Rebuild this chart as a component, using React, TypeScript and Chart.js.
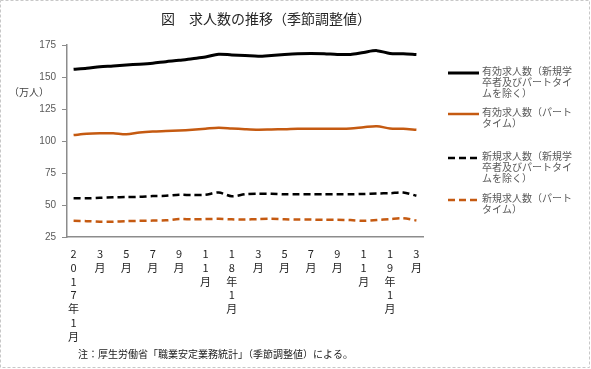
import React, { useEffect, useRef } from 'react';
import { Chart, registerables } from 'chart.js';

Chart.register(...registerables);

// Monthly ticks, Jan 2017 – Mar 2019 (labels every two months)
const tickLabels = [
  '2017年1月', '', '3月', '', '5月', '', '7月', '', '9月', '', '11月', '',
  '18年1月', '', '3月', '', '5月', '', '7月', '', '9月', '', '11月', '',
  '19年1月', '', '3月',
];

const yTicks = [25, 50, 75, 100, 125, 150, 175];

const effectiveExcl = [
  156.1, 156.8, 158.0, 158.6, 159.4, 160.0, 160.8, 162.0, 163.0, 164.3, 165.6, 167.8, 167.2,
  166.8, 166.2, 166.8, 167.6, 168.2, 168.4, 168.2, 167.6, 167.6, 169.2, 170.6, 168.4, 168.2, 167.6,
];
const effectivePart = [
  104.6, 105.6, 106.0, 106.0, 105.2, 106.6, 107.4, 107.8, 108.2, 108.8, 109.6, 110.4, 109.8,
  109.2, 108.8, 109.0, 109.2, 109.6, 109.6, 109.6, 109.6, 109.8, 110.8, 111.6, 109.8, 109.6, 108.8,
];
const newExcl = [
  55.3, 55.2, 55.6, 56.0, 56.2, 56.4, 57.0, 57.2, 58.0, 57.8, 58.0, 59.8, 56.8,
  58.4, 58.8, 58.8, 58.4, 58.4, 58.4, 58.4, 58.4, 58.4, 58.6, 59.0, 59.2, 59.8, 57.2,
];
const newPart = [
  37.6, 37.4, 36.9, 37.0, 37.4, 37.6, 37.8, 38.0, 39.0, 38.8, 39.0, 39.2, 38.8,
  38.6, 39.0, 39.2, 38.8, 38.6, 38.6, 38.4, 38.4, 38.2, 37.6, 38.2, 39.0, 39.6, 37.9,
];

const seriesNames = [
  ['有効求人数（新規学', '卒者及びパートタイ', 'ムを除く）'],
  ['有効求人数（パート', 'タイム）'],
  ['新規求人数（新規学', '卒者及びパートタイ', 'ムを除く）'],
  ['新規求人数（パート', 'タイム）'],
];

const titleText = '図　求人数の推移（季節調整値）';
const unitText = '（万人）';
const noteText = '注：厚生労働省「職業安定業務統計」（季節調整値）による。';

const BLACK = '#000000';
const ORANGE = '#C55A11';
const DASH = [7, 4];
const JP = '"Noto Sans CJK JP", "Noto Sans", sans-serif';

const extrasPlugin = {
  id: 'extras',
  afterDraw(chart: any) {
    const ctx = chart.ctx as CanvasRenderingContext2D;
    ctx.save();
    // outer dashed frame
    ctx.setLineDash([3, 2]);
    ctx.strokeStyle = '#c8c8c8';
    ctx.lineWidth = 1;
    ctx.strokeRect(0.5, 0.5, 589, 367);
    ctx.setLineDash([]);

    // title
    ctx.fillStyle = '#262626';
    ctx.font = `14px ${JP}`;
    ctx.textAlign = 'center';
    ctx.textBaseline = 'middle';
    ctx.fillText(titleText, 266, 19);

    // unit
    ctx.fillStyle = '#404040';
    ctx.font = `10px ${JP}`;
    ctx.textAlign = 'left';
    ctx.fillText(unitText, 9, 92);

    // footnote
    ctx.fillStyle = '#1a1a1a';
    ctx.font = `10px ${JP}`;
    ctx.fillText(noteText, 78, 354);

    // legend
    const items = chart.data.datasets;
    const lineY = [73, 114, 158, 200];
    items.forEach((ds: any, i: number) => {
      const y = lineY[i];
      ctx.beginPath();
      ctx.setLineDash(ds.borderDash || []);
      ctx.strokeStyle = ds.borderColor;
      ctx.lineWidth = ds.borderWidth;
      ctx.moveTo(448, y);
      ctx.lineTo(479, y);
      ctx.stroke();
      ctx.setLineDash([]);
      ctx.fillStyle = '#595959';
      ctx.font = `10px ${JP}`;
      ctx.textAlign = 'left';
      ctx.textBaseline = 'middle';
      seriesNames[i].forEach((t, k) => {
        ctx.fillText(t, 482, y - 2 + k * 11);
      });
    });
    ctx.restore();
  },
};

export default function App() {
  const ref = useRef<HTMLCanvasElement | null>(null);

  useEffect(() => {
    document.body.style.margin = '0';
    const canvas = ref.current!;
    const chart = new Chart(canvas, {
      type: 'line',
      data: {
        labels: tickLabels.map((l) => (l ? Array.from(l) : [''])),
        datasets: [
          { label: seriesNames[0].join(''), data: effectiveExcl, borderColor: BLACK, borderWidth: 3, pointRadius: 0, tension: 0.3, fill: false },
          { label: seriesNames[1].join(''), data: effectivePart, borderColor: ORANGE, borderWidth: 2.5, pointRadius: 0, tension: 0.3, fill: false },
          { label: seriesNames[2].join(''), data: newExcl, borderColor: BLACK, borderWidth: 2.5, borderDash: DASH, pointRadius: 0, tension: 0.3, fill: false },
          { label: seriesNames[3].join(''), data: newPart, borderColor: ORANGE, borderWidth: 2.5, borderDash: DASH, pointRadius: 0, tension: 0.3, fill: false },
        ] as any,
      },
      options: {
        responsive: false,
        animation: false,
        devicePixelRatio: 1,
        layout: { padding: { top: 45, right: 168, bottom: 0, left: 0 } },
        plugins: {
          legend: { display: false },
          title: { display: false },
          tooltip: { enabled: false },
        },
        scales: {
          x: {
            offset: true,
            grid: { display: false, drawTicks: false },
            border: { display: true, color: '#8c8c8c', width: 1.5 },
            ticks: {
              autoSkip: false,
              maxRotation: 0,
              minRotation: 0,
              padding: 10,
              color: '#262626',
              font: { family: JP, size: 11, lineHeight: 1.25 },
            },
            afterFit: (s: any) => { s.height = 132; },
          },
          y: {
            min: yTicks[0],
            max: yTicks[yTicks.length - 1],
            grid: { drawOnChartArea: false, drawTicks: true, tickLength: 5, color: '#8c8c8c' },
            border: { display: true, color: '#8c8c8c', width: 1.5 },
            ticks: {
              stepSize: 25,
              padding: 6,
              color: '#595959',
              font: { family: '"Liberation Sans", Arial, sans-serif', size: 10 },
            },
            afterFit: (s: any) => { s.width = 67; },
          },
        },
      },
      plugins: [extrasPlugin],
    });
    return () => chart.destroy();
  }, []);

  return (
    <div style={{ position: 'absolute', left: 0, top: 0, width: 591, height: 369, background: '#fff' }}>
      <canvas ref={ref} width={591} height={369} style={{ display: 'block', width: 591, height: 369 }} />
    </div>
  );
}
